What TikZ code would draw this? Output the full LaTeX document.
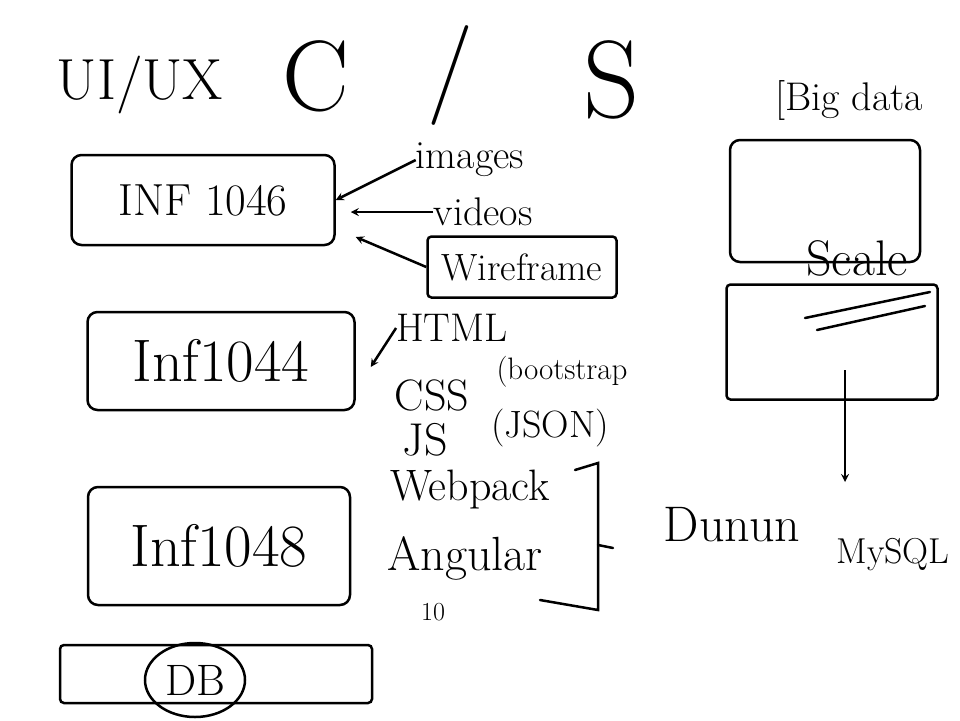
\documentclass[tikz,border=0pt]{standalone}
\usepackage{fontspec}
\usepackage{tikz}
\usetikzlibrary{shapes.geometric}
\newcommand{\fsz}[1]{\fontsize{#1}{#1}\selectfont}

\begin{document}
\begin{tikzpicture}[x=1pt, y=-1pt]
            % Define styles
            \tikzstyle{course} = [rectangle, rounded corners=10pt, draw=black, line width=2.5pt, text centered]
            \tikzstyle{word} = [inner sep=0pt]
            \tikzstyle{arrow} = [line width=2.5pt,->,>=stealth]
            \useasboundingbox (0,0) rectangle (960,720);

            % Title row
            \node (uiux) [word, font=\fsz{58}] at (140,85) {UI/UX};
            \node (client) [word, font=\fsz{100}] at (316,76) {C};
            \node (slash) [word, font=\fsz{100}] at (450,75) {/};
            \node (server) [word, font=\fsz{110}] at (612,80) {S};
            \node (bigdata) [word, font=\fsz{40}, anchor=west] at (775,100) {[Big data};

            % Course boxes on the left
            \node (inf1046) [course, minimum width=263pt, minimum height=90pt, font=\fsz{45}] at (203,200) {INF 1046};
            \node (inf1044) [course, minimum width=267pt, minimum height=98pt, font=\fsz{60}] at (221,361) {Inf1044};
            \node (inf1048) [course, minimum width=262pt, minimum height=118pt, font=\fsz{60}] at (219,546) {Inf1048};
            \node (dbbar) [course, rounded corners=4pt, minimum width=312pt, minimum height=58pt] at (216,674) {};
            \node (db) [ellipse, draw=black, line width=2.5pt, minimum width=100pt, minimum height=74pt, font=\fsz{44}] at (195,680) {DB};

            % Inputs of the first course
            \node (images) [word, font=\fsz{40}] at (470,160) {images};
            \node (videos) [word, font=\fsz{40}] at (483,212) {videos};
            \node (wireframe) [course, rounded corners=4pt, minimum width=189pt, minimum height=61pt, font=\fsz{38}] at (522,267) {Wireframe};

            % Web stack
            \node (html) [word, font=\fsz{40}] at (452,328) {HTML};
            \node (css) [word, font=\fsz{44}] at (432,395) {CSS};
            \node (js) [word, font=\fsz{46}] at (425,440) {JS};
            \node (bootstrap) [word, font=\fsz{31}] at (562,372) {(bootstrap};
            \node (json) [word, font=\fsz{38}] at (550,428) {(JSON)};
            \node (webpack) [word, font=\fsz{44}] at (470,490) {Webpack};
            \node (angular) [word, font=\fsz{48}] at (465,558) {Angular};
            \node (ten) [word, font=\fsz{26}] at (433,612) {10};
            \node (dunun) [word, font=\fsz{50}] at (732,525) {Dunun};
            \node (mysql) [word, font=\fsz{36}] at (893,555) {MySQL};

            % Big data boxes
            \node (bigtop) [course, minimum width=190pt, minimum height=122pt] at (825,201) {};
            \node (bigbot) [course, rounded corners=4pt, minimum width=211pt, minimum height=115pt] at (832,342) {};
            \node (scale) [word, font=\fsz{50}] at (857,258) {Scale};
            \coordinate (sqltop) at (845,482);

            % Bracket and strokes
            \draw [line width=2.5pt, line cap=round] (575,470) -- (598,463) -- (598,610) -- (540,600);
            \draw [line width=2.5pt, line cap=round] (598,545) -- (613,548);
            \draw [line width=2.5pt, line cap=round] (805,318) -- (930,292);
            \draw [line width=2.5pt, line cap=round] (817,330) -- (925,306);

            % Arrows
            \draw [arrow] (images.west) -- (inf1046.east);
            \draw [arrow] (videos.west) -- ([shift={(15,12)}]inf1046.east);
            \draw [arrow] (wireframe.west) -- ([shift={(20,37)}]inf1046.east);
            \draw [arrow] (html.west) -- ([shift={(15,6)}]inf1044.east);
            \draw [arrow] ([shift={(13,28)}]bigbot.center) -- (sqltop);
        \end{tikzpicture}
\end{document}
